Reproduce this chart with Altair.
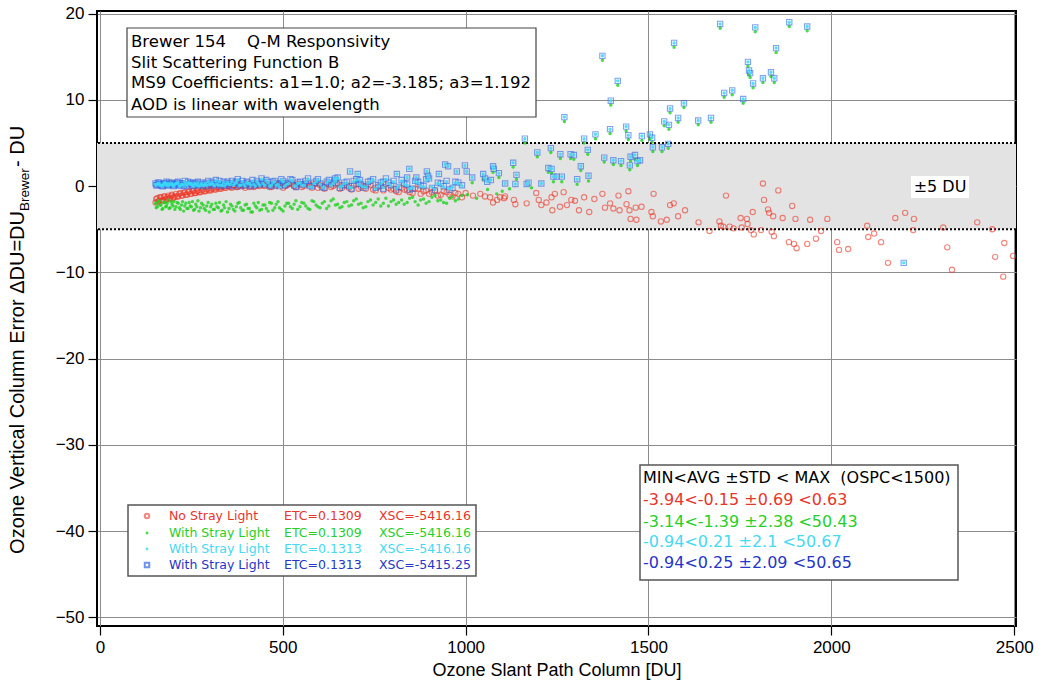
import altair as alt
import pandas as pd

# ---------------- data ----------------
# dense part of the measurements, ozone slant path column [DU]
band_x = [
    152, 157, 162, 167, 172, 177, 182, 187, 192, 197, 202,
    208, 214, 220, 226, 232, 238, 244, 250, 256, 262, 268,
    275, 282, 289, 296, 303, 310, 317, 324, 331, 338, 345,
    353, 361, 369, 377, 385, 393, 401, 409, 417, 425, 433,
    442, 451, 460, 469, 478, 487, 496, 506, 516, 526, 536,
    547, 558, 569, 580, 591, 602, 614, 626, 638, 650, 662,
    675, 688, 701, 714, 727, 740, 754, 768, 782, 796, 810,
    825, 840, 855, 870, 885, 900, 916, 932, 948, 964, 980,
]
band_x2 = [
    154, 159, 164, 170, 175, 180, 184, 189, 195, 200, 205,
    211, 217, 223, 229, 235, 241, 247, 253, 259, 265, 271,
    278, 285, 292, 299, 306, 313, 320, 327, 334, 341, 349,
    357, 365, 373, 381, 389, 397, 405, 413, 421, 429, 437,
    446, 455, 464, 473, 482, 491, 501, 511, 521, 531, 541,
    552, 563, 574, 585, 596, 608, 620, 632, 644, 656, 668,
    681, 694, 707, 720, 733, 747, 761, 775, 789, 803, 817,
    832, 847, 862, 877, 892, 908, 924, 940, 956, 972, 990,
]
blue_band_y = [
    0.3, 0.1, 0.4, 0.2, 0.0, 0.3, 0.5, 0.1, 0.2, 0.4, 0.0,
    0.2, 0.5, 0.1, 0.3, 0.6, 0.0, 0.2, 0.4, 0.1, 0.3, 0.5,
    0.2, 0.0, 0.4, 0.6, 0.1, 0.3, 0.7, 0.2, 0.0, 0.5, 0.3,
    0.1, 0.6, 0.4, 0.8, 0.0, 0.3, 0.5, 0.2, 0.7, 0.1, 0.4,
    0.9, 0.2, 0.5, 0.0, 0.6, 0.3, 0.8, 0.1, 0.4, 0.7, -0.1,
    0.5, 0.2, 0.9, 0.0, 0.6, 0.3, -0.2, 0.7, 0.4, 1.0, 0.1,
    0.5, -0.3, 0.8, 0.2, 0.0, 0.6, -0.2, 0.4, 0.9, 0.1, -0.4,
    0.7, 0.2, -0.3, 0.5, 0.0, 0.9, -0.5, 0.3, 0.6, -0.2, 0.4,
]
blue_band_y2 = [
    0.1, 0.4, 0.2, 0.0, 0.3, 0.2, 0.1, 0.4, 0.3, 0.1, 0.3,
    0.4, 0.1, 0.3, 0.0, 0.2, 0.5, 0.3, 0.0, 0.4, 0.2, 0.1,
    0.4, 0.2, 0.0, 0.3, 0.5, 0.1, 0.3, 0.6, 0.2, 0.1, 0.5,
    0.3, 0.0, 0.5, 0.2, 0.6, 0.1, 0.4, 0.0, 0.3, 0.6, 0.2,
    0.4, 0.7, 0.1, 0.5, 0.2, 0.0, 0.6, 0.3, 0.8, 0.1, 0.4,
    0.2, 0.6, 0.0, 0.4, 0.8, -0.1, 0.5, 0.2, 0.7, -0.2, 0.4,
    0.0, 0.6, 0.3, -0.2, 0.5, 0.8, 0.1, -0.3, 0.4, 0.6, -0.1,
    0.3, -0.4, 0.6, 0.1, 0.8, -0.2, 0.4, 0.0, -0.4, 0.5, 0.1,
]
cyan_band_y = [
    0.2, 0.2, 0.3, 0.1, 0.1, 0.4, 0.3, 0.0, 0.2, 0.3, 0.1,
    0.3, 0.4, 0.0, 0.2, 0.5, 0.1, 0.3, 0.3, 0.0, 0.2, 0.4,
    0.1, 0.1, 0.3, 0.5, 0.2, 0.2, 0.6, 0.1, 0.1, 0.4, 0.2,
    0.2, 0.5, 0.3, 0.7, 0.1, 0.2, 0.4, 0.3, 0.6, 0.0, 0.3,
    0.8, 0.1, 0.4, 0.1, 0.5, 0.2, 0.7, 0.0, 0.3, 0.6, 0.0,
    0.4, 0.1, 0.8, -0.1, 0.5, 0.2, -0.1, 0.6, 0.3, 0.9, 0.0,
    0.4, -0.2, 0.7, 0.1, -0.1, 0.5, -0.3, 0.3, 0.8, 0.0, -0.3,
    0.6, 0.1, -0.2, 0.4, -0.1, 0.8, -0.4, 0.2, 0.5, -0.1, 0.3,
]
cyan_band_y2 = [
    0.2, 0.3, 0.1, 0.1, 0.3, 0.1, 0.2, 0.3, 0.2, 0.0, 0.2,
    0.3, 0.0, 0.2, 0.1, 0.3, 0.4, 0.2, 0.1, 0.3, 0.1, 0.0,
    0.3, 0.1, 0.1, 0.2, 0.4, 0.0, 0.2, 0.5, 0.1, 0.0, 0.4,
    0.2, 0.1, 0.4, 0.1, 0.5, 0.0, 0.3, 0.1, 0.2, 0.5, 0.1,
    0.3, 0.6, 0.0, 0.4, 0.1, -0.1, 0.5, 0.2, 0.7, 0.0, 0.3,
    0.1, 0.5, -0.1, 0.3, 0.7, -0.2, 0.4, 0.1, 0.6, -0.1, 0.3,
    -0.1, 0.5, 0.2, -0.1, 0.4, 0.7, 0.0, -0.2, 0.3, 0.5, 0.0,
    0.2, -0.3, 0.5, 0.0, 0.7, -0.1, 0.3, -0.1, -0.3, 0.4, 0.0,
]
red_band_y = [
    -1.9, -1.4, -1.7, -1.3, -1.6, -1.2, -1.5, -1.1, -1.4, -1.0, -1.3,
    -0.9, -1.2, -0.8, -1.1, -0.7, -1.0, -0.6, -0.9, -0.5, -0.8, -0.5,
    -0.7, -0.4, -0.6, -0.3, -0.5, -0.2, -0.4, -0.1, -0.3, 0.0, -0.2,
    0.0, -0.2, 0.1, -0.1, 0.2, 0.0, 0.1, -0.1, 0.2, 0.0, 0.1,
    0.3, 0.0, 0.2, -0.1, 0.3, 0.1, 0.4, 0.0, 0.2, 0.3, -0.1,
    0.2, 0.0, 0.4, -0.2, 0.3, 0.1, -0.3, 0.2, 0.0, 0.3, -0.2,
    0.1, -0.4, 0.2, -0.1, -0.3, 0.1, -0.5, 0.0, 0.2, -0.4, -0.6,
    -0.2, -0.5, -0.8, -0.3, -0.6, -0.9, -0.5, -1.0, -0.7, -1.2, -0.9,
]
red_band_y2 = [
    -1.5, -1.8, -1.3, -1.7, -1.2, -1.6, -1.3, -1.5, -1.1, -1.4, -1.2,
    -1.2, -0.9, -1.1, -0.8, -1.0, -0.7, -0.9, -0.6, -0.8, -0.6, -0.7,
    -0.5, -0.6, -0.4, -0.5, -0.3, -0.4, -0.2, -0.3, -0.1, -0.2, 0.0,
    -0.1, 0.1, -0.1, 0.0, 0.1, -0.2, 0.2, 0.0, -0.1, 0.2, 0.0,
    0.1, 0.2, -0.1, 0.2, 0.0, 0.3, -0.2, 0.1, 0.3, 0.0, 0.2,
    -0.1, 0.3, 0.1, 0.2, -0.2, 0.0, 0.3, -0.1, 0.2, -0.3, 0.1,
    -0.2, 0.1, -0.3, 0.0, 0.2, -0.4, -0.1, -0.5, -0.2, -0.3, -0.7,
    -0.4, -0.7, -0.3, -0.9, -0.5, -0.7, -1.1, -0.6, -1.0, -0.8, -1.3,
]
green_band_y = [
    -2.0, -2.4, -1.7, -2.2, -2.6, -1.9, -2.3, -1.6, -2.5, -2.1, -1.8,
    -2.4, -2.0, -2.7, -1.8, -2.3, -2.6, -1.9, -2.4, -2.8, -2.1, -1.7,
    -2.5, -2.2, -2.8, -1.9, -2.4, -2.7, -2.0, -2.5, -2.9, -2.2, -1.8,
    -2.6, -2.3, -2.9, -2.0, -2.5, -2.8, -2.1, -2.6, -3.0, -2.3, -1.9,
    -2.7, -2.2, -2.9, -2.0, -2.5, -1.8, -2.7, -2.3, -2.0, -2.6, -1.7,
    -2.4, -2.0, -2.6, -1.7, -2.2, -2.5, -1.8, -2.3, -1.5, -2.1, -2.4,
    -1.8, -2.2, -1.5, -2.0, -2.4, -1.6, -1.9, -2.3, -1.4, -1.8, -2.1,
    -1.6, -1.9, -1.3, -2.2, -1.5, -1.8, -1.1, -1.6, -2.0, -1.2, -1.5,
]
green_band_y2 = [
    -2.5, -1.8, -2.2, -2.7, -1.9, -2.4, -2.0, -2.6, -1.8, -2.3, -2.7,
    -1.9, -2.5, -2.2, -2.9, -2.0, -2.6, -2.3, -1.8, -2.7, -2.4, -2.9,
    -2.0, -2.6, -2.3, -3.0, -2.1, -2.7, -2.4, -1.9, -2.8, -2.5, -3.0,
    -2.1, -2.7, -2.4, -1.9, -2.8, -2.2, -2.6, -3.0, -2.0, -2.5, -2.8,
    -2.2, -2.6, -1.9, -2.8, -2.1, -2.5, -2.9, -2.0, -2.4, -2.1, -2.7,
    -1.9, -2.3, -2.7, -1.8, -2.4, -2.0, -2.6, -1.7, -2.2, -2.5, -1.9,
    -2.3, -1.7, -2.1, -2.5, -1.8, -2.2, -1.5, -2.0, -2.3, -1.6, -1.9,
    -2.1, -1.4, -1.8, -1.6, -2.0, -1.3, -1.7, -1.9, -1.4, -1.7, -1.1,
]

# scattered points (blue squares; the cyan dots sit on the same places)
blue_out_x = [
    643, 684, 705, 711, 774, 812, 840, 846, 865, 894,
    897, 927, 944, 952, 976, 998, 1003, 1018, 1048, 1053,
    1059, 1069, 1075, 1077, 1091, 1108, 1130, 1136, 1139, 1162,
    1167, 1172, 1196, 1207, 1226, 1233, 1235, 1240, 1249, 1259,
    1263, 1270, 1287, 1296, 1305, 1315, 1324, 1334, 1336, 1355,
    1374, 1379, 1395, 1397, 1404, 1416, 1425, 1439, 1445, 1449,
    1451, 1463, 1470, 1477, 1482, 1504, 1510, 1512, 1537, 1543,
    1554, 1556, 1559, 1570, 1581, 1597, 1636, 1671, 1696, 1707,
    1729, 1759, 1772, 1775, 1778, 1786, 1792, 1813, 1835, 1844,
    1849, 1885, 1934, 2198,
]
blue_out_y = [
    0.9, 1.7, 1.4, 0.7, 0.5, 1.4, 1.0, 2.0, 1.0, 1.7,
    1.2, 1.4, 2.5, 2.3, 1.7, 2.4, 1.7, 1.0, 1.4, 0.9,
    0.5, 0.7, 2.3, 2.0, 1.5, 0.3, 2.7, 0.25, 1.3, 5.5,
    0.25, 0.4, 3.9, 0.3, 2.1, 4.4, 2.0, 1.1, 1.1, 3.7,
    1.1, 8.0, 3.7, 3.6, 0.8, 2.3, 5.5, 4.2, 1.2, 6.0,
    15.1, 3.3, 6.6, 9.9, 3.0, 12.2, 2.9, 6.9, 5.9, 2.4,
    3.4, 3.6, 2.9, 3.0, 5.8, 6.0, 5.6, 4.5, 4.5, 7.5,
    4.9, 7.1, 9.0, 16.6, 7.9, 9.6, 7.6, 7.9, 18.8, 10.8,
    11.1, 10.1, 14.4, 13.4, 13.1, 11.9, 18.4, 12.5, 13.2, 12.5,
    16.0, 19.0, 18.5, -8.9,
]
cyan_out_x = blue_out_x
cyan_out_y = blue_out_y

green_out_x = [
    1005, 1018, 1030, 1048, 1060, 1075, 1085, 1091, 1100, 1120,
    1130, 1139, 1162, 1180, 1196, 1226, 1233, 1235, 1240, 1259,
    1263, 1270, 1287, 1296, 1305, 1315, 1324, 1334, 1336, 1355,
    1374, 1379, 1395, 1397, 1404, 1416, 1425, 1439, 1445, 1449,
    1451, 1463, 1470, 1482, 1504, 1510, 1512, 1537, 1543, 1554,
    1556, 1559, 1570, 1581, 1597, 1636, 1671, 1696, 1707, 1729,
    1759, 1772, 1775, 1778, 1786, 1792, 1813, 1835, 1844, 1849,
    1885, 1934,
]
green_out_y = [
    -1.0, 0.4, -1.4, 0.8, -0.4, 1.6, -0.9, 1.0, -0.6, -0.3,
    2.2, 0.8, 5.0, -0.2, 3.4, 1.6, 3.9, 1.5, 0.5, 3.2,
    0.5, 7.5, 3.2, 3.1, 0.2, 1.8, 5.0, 3.7, 0.6, 5.5,
    14.6, 2.8, 6.1, 9.4, 2.5, 11.7, 2.4, 6.4, 5.4, 1.9,
    2.9, 3.1, 2.4, 5.3, 5.5, 5.1, 4.0, 4.0, 7.0, 4.4,
    6.6, 8.5, 16.1, 7.4, 9.1, 7.1, 7.4, 18.3, 10.3, 10.6,
    9.6, 13.9, 12.9, 12.6, 11.4, 17.9, 12.0, 12.7, 12.0, 15.5,
    18.5, 18.0,
]

red_out_x = [
    1000, 1020, 1040, 1053, 1067, 1075, 1086, 1094, 1105, 1108,
    1132, 1136, 1167, 1193, 1200, 1207, 1221, 1235, 1237, 1244,
    1258, 1268, 1277, 1289, 1299, 1310, 1324, 1338, 1352, 1374,
    1381, 1395, 1404, 1418, 1421, 1440, 1445, 1448, 1451, 1465,
    1467, 1481, 1508, 1512, 1514, 1534, 1550, 1559, 1569, 1581,
    1600, 1637, 1667, 1694, 1698, 1705, 1712, 1722, 1733, 1752,
    1755, 1769, 1771, 1780, 1785, 1788, 1808, 1813, 1816, 1827,
    1830, 1837, 1841, 1843, 1855, 1867, 1884, 1893, 1898, 1902,
    1905, 1934, 1942, 1958, 1972, 1989, 2016, 2021, 2046, 2098,
    2101, 2117, 2136, 2155, 2175, 2202, 2224, 2226, 2306, 2317,
    2330, 2399, 2440, 2448, 2470, 2473, 2497,
]
red_out_y = [
    -0.8, -1.1, -0.9, -1.2, -1.3, -1.9, -1.6, -1.3, -1.4, -1.2,
    -1.6, -2.1, -2.0, -0.8, -1.6, -2.2, -1.9, -1.3, -2.8, -0.9,
    -2.4, -0.7, -2.2, -1.6, -1.7, -2.8, -1.3, -3.0, -1.5, -0.9,
    -2.5, -2.0, -2.6, -1.1, -2.8, -2.1, -0.6, -2.8, -3.8, -2.5,
    -3.9, -2.4, -3.0, -3.5, -0.9, -4.1, -3.9, -2.2, -2.0, -3.5,
    -2.8, -4.2, -5.2, -4.1, -4.6, -4.7, -1.1, -4.7, -4.9, -3.7,
    -4.8, -3.8, -4.4, -5.1, -3.0, -5.6, -5.1, 0.3, -1.6, -2.7,
    -3.1, -5.3, -3.5, -5.8, -0.5, -3.7, -6.5, -2.3, -6.7, -3.8,
    -7.2, -6.7, -3.9, -6.1, -5.2, -3.8, -6.5, -7.4, -7.3, -4.6,
    -5.9, -5.5, -6.5, -8.9, -3.7, -3.1, -5.1, -3.8, -4.8, -7.1,
    -9.7, -4.2, -5.0, -8.2, -10.5, -6.6, -8.1,
]

x_ticks = [0, 500, 1000, 1500, 2000, 2500]
y_ticks = [-50, -40, -30, -20, -10, 0, 10, 20]
x_range = [-8, 2505]
y_range = [-51.0, 20.3]
band_limits = [-5, 5]

info_lines = ["Brewer 154", "Q-M Responsivity", "Slit Scattering Function B",
              "MS9 Coefficients: a1=1.0; a2=-3.185; a3=1.192",
              "AOD is linear with wavelength"]
legend_names = ["No Stray Light", "With Stray Light", "With Stray Light", "With Stray Light"]
legend_etc = ["ETC=0.1309", "ETC=0.1309", "ETC=0.1313", "ETC=0.1313"]
legend_xsc = ["XSC=-5416.16", "XSC=-5416.16", "XSC=-5416.16", "XSC=-5415.25"]
stats_header = "MIN<AVG \u00b1STD < MAX \u00a0(OSPC<1500)"
stats_lines = ["-3.94<-0.15 \u00b10.69 <0.63", "-3.14<-1.39 \u00b12.38 <50.43",
               "-0.94<0.21 \u00b12.1 <50.67", "-0.94<0.25 \u00b12.09 <50.65"]
text_colors = ["#e8352b", "#27d027", "#46d9f2", "#2536c8"]

# ---------------- chart ----------------
W, H = 919, 615
FONT = "DejaVu Sans"

xscale = alt.Scale(domain=x_range, nice=False, zero=False)
yscale = alt.Scale(domain=y_range, nice=False, zero=False)


def ex():
    return alt.X("x:Q", scale=xscale,
                 axis=alt.Axis(values=x_ticks, format="d",
                               title="Ozone Slant Path Column [DU]", grid=True))


def ey(field="y:Q"):
    return alt.Y(field, scale=yscale,
                 axis=alt.Axis(values=y_ticks, format="d", title=None, grid=True))


def pts(*pairs):
    frames = [pd.DataFrame({"x": xs, "y": ys}) for xs, ys in pairs]
    return pd.concat(frames, ignore_index=True)


red_df = pts((band_x, red_band_y), (band_x2, red_band_y2), (red_out_x, red_out_y))
green_df = pts((band_x, green_band_y), (band_x2, green_band_y2), (green_out_x, green_out_y))
blue_df = pts((band_x, blue_band_y), (band_x2, blue_band_y2), (blue_out_x, blue_out_y))
cyan_df = pts((band_x, cyan_band_y), (band_x2, cyan_band_y2), (cyan_out_x, cyan_out_y))

band = alt.Chart(pd.DataFrame({"y": [band_limits[0]], "y2": [band_limits[1]]})).mark_rect(
    color="#e3e3e3").encode(y=ey(), y2="y2:Q", x=alt.value(0), x2=alt.value(W))

dots = alt.Chart(pd.DataFrame({"y": band_limits})).mark_rule(
    color="black", strokeDash=[2, 2], strokeWidth=2).encode(y=ey())

red = alt.Chart(red_df).mark_point(shape="circle", filled=False, size=28, strokeWidth=1.1,
                                   color="#ee3626", opacity=0.6, clip=True).encode(x=ex(), y=ey())
green = alt.Chart(green_df).mark_circle(size=12, color="#1fd21f", opacity=0.8,
                                        clip=True).encode(x=ex(), y=ey())
blue = alt.Chart(blue_df).mark_point(shape="square", filled=False, size=28, strokeWidth=1.1,
                                     color="#2f68e6", opacity=0.6, clip=True).encode(x=ex(), y=ey())
cyan = alt.Chart(cyan_df).mark_circle(size=12, color="#38d8f8", opacity=0.85,
                                      clip=True).encode(x=ex(), y=ey())


def label(text, px, py, size, color="black", font=FONT, align="left", angle=None):
    kw = dict(align=align, baseline="middle", fontSize=size, font=font, color=color)
    if angle is not None:
        kw["angle"] = angle
    return alt.Chart(pd.DataFrame({"t": [text]})).mark_text(**kw).encode(
        text="t:N", x=alt.value(px), y=alt.value(py))


def box(x0, y0, x1, y1, stroke="#444444", sw=1.2):
    return alt.Chart(pd.DataFrame({"a": [0]})).mark_rect(
        fill="white", stroke=stroke, strokeWidth=sw).encode(
        x=alt.value(x0), x2=alt.value(x1), y=alt.value(y0), y2=alt.value(y1))


def marker(px, py, **kw):
    return alt.Chart(pd.DataFrame({"a": [0]})).mark_point(**kw).encode(
        x=alt.value(px), y=alt.value(py))


layers = [band, dots, red, green, blue, cyan]

# info box (top left)
layers.append(box(30, 17, 439, 106))
layers.append(label(info_lines[0], 34, 31, 16.5))
layers.append(label(info_lines[1], 150, 31, 16.5))
layers.append(label(info_lines[2], 34, 52, 16.5))
layers.append(label(info_lines[3], 34, 72, 16.5))
layers.append(label(info_lines[4], 34, 94, 16.5))

# legend box (bottom left)
layers.append(box(31, 494, 379, 565, stroke="#555555", sw=1.5))
rows_y = [505, 522, 538, 554]
layers.append(marker(50, rows_y[0], shape="circle", filled=False, size=20, color="#ec3a2e", opacity=0.6))
layers.append(marker(50, rows_y[1], shape="circle", filled=True, size=8, color="#1fd21f", opacity=0.8))
layers.append(marker(50, rows_y[2], shape="circle", filled=True, size=8, color="#38d8f8", opacity=0.8))
layers.append(marker(50, rows_y[3], shape="square", filled=False, size=20, color="#2f68e6", opacity=0.7))
for i in range(4):
    layers.append(label(legend_names[i], 72, rows_y[i], 12.5, color=text_colors[i]))
    layers.append(label(legend_etc[i], 187, rows_y[i], 12.5, color=text_colors[i]))
    layers.append(label(legend_xsc[i], 282, rows_y[i], 12.5, color=text_colors[i]))

# statistics box (bottom right)
layers.append(box(543, 454, 861, 569, stroke="#555555", sw=1.5))
layers.append(label(stats_header, 546, 467, 16))
stats_y = [489, 511, 531, 552]
for i in range(4):
    layers.append(label(stats_lines[i], 546, stats_y[i], 16, color=text_colors[i]))

# +-5 DU tag
layers.append(box(814, 165, 872, 187, stroke="white", sw=0))
layers.append(label("\u00b15 DU", 843, 176, 16, align="center"))

# y axis title with subscript
YT = "Liberation Sans"
layers.append(label("Ozone Vertical Column Error \u0394DU=DU", -79, 200, 20, font=YT,
                    align="right", angle=270))
layers.append(label("Brewer", -72, 200, 13.5, font=YT, align="left", angle=270))
layers.append(label("\u00a0- DU", -79, 156, 20, font=YT, align="left", angle=270))

chart = alt.layer(*layers).properties(
    width=W, height=H,
    autosize=alt.AutoSizeParams(type="none"),
    padding={"left": 97, "top": 11, "right": 27, "bottom": 64},
).configure_view(
    stroke="black", strokeWidth=2
).configure_axis(
    labelFont="Liberation Sans", labelFontSize=17, labelColor="black",
    tickColor="black", tickSize=9, tickWidth=1.2, domain=False,
    gridColor="#8c8c8c", gridWidth=1,
    titleFont="Liberation Sans", titleFontSize=18, titleFontWeight="normal",
    titleColor="black", labelPadding=4, titlePadding=6,
)

chart.save("out.html", embed_options={"renderer": "svg", "actions": False})
